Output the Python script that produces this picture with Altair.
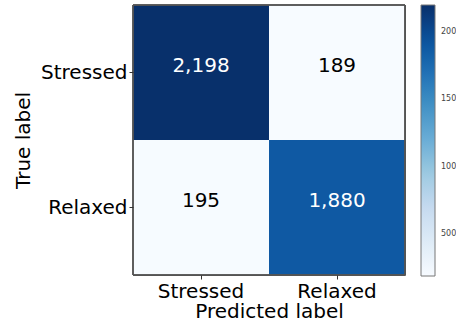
import altair as alt
import numpy as np
import pandas as pd

# Confusion matrix counts
classes = ["Stressed", "Relaxed"]
true_labels = ["Stressed", "Stressed", "Relaxed", "Relaxed"]
pred_labels = ["Stressed", "Relaxed", "Stressed", "Relaxed"]
counts = [2198, 189, 195, 1880]
colorbar_ticks = [500, 1000, 1500, 2000]

df = pd.DataFrame({"true": true_labels, "pred": pred_labels, "count": counts})

# matplotlib-style "Blues" colour map, spread over the data range
blues = ["#f7fbff", "#deebf7", "#c6dbef", "#9ecae1", "#6baed6",
         "#4292c6", "#2171b5", "#08519c", "#08306b"]
lo, hi = min(counts), max(counts)
stops = list(np.linspace(lo, hi, len(blues)))
threshold = (lo + hi) / 2

FONT = "DejaVu Sans"
W, H = 272, 270

x_enc = alt.X("pred:N", sort=classes, title="Predicted label",
              axis=alt.Axis(labelAngle=0, labelFontSize=20, titleFontSize=20,
                            labelFont=FONT, titleFont=FONT, labelColor="black",
                            titleColor="black", titleFontWeight="normal",
                            domain=False, ticks=True, tickSize=4, tickColor="#333",
                            labelPadding=2, titlePadding=0))
y_enc = alt.Y("true:N", sort=classes, title="True label",
              axis=alt.Axis(labelFontSize=20, titleFontSize=20,
                            labelFont=FONT, titleFont=FONT, labelColor="black",
                            titleColor="black", titleFontWeight="normal",
                            domain=False, ticks=True, tickSize=4, tickColor="#333",
                            labelPadding=2, titlePadding=7))

rects = alt.Chart(df).mark_rect().encode(
    x=x_enc,
    y=y_enc,
    color=alt.Color("count:Q",
                    scale=alt.Scale(domain=stops, range=blues, zero=False, nice=False),
                    legend=alt.Legend(title=None, orient="right", offset=16, padding=0,
                                      gradientLength=271, gradientThickness=14,
                                      gradientStrokeColor="#777", gradientStrokeWidth=1,
                                      values=colorbar_ticks, format="d", labelFontSize=8,
                                      labelFont=FONT, labelColor="#444",
                                      labelOffset=6, direction="vertical")),
)

labels = alt.Chart(df).mark_text(font=FONT, fontSize=20, dy=-7).encode(
    x=alt.X("pred:N", sort=classes),
    y=alt.Y("true:N", sort=classes),
    text=alt.Text("count:Q", format=",d"),
    color=alt.condition(alt.datum["count"] > threshold,
                        alt.value("white"), alt.value("black")),
)

# thin frame drawn over the cells
frame = alt.Chart(df).mark_rect(fill=None, stroke="#555", strokeWidth=1).encode(
    x=alt.value(0), x2=alt.value(W), y=alt.value(0), y2=alt.value(H),
)

chart = (rects + labels + frame).properties(
    width=W, height=H,
    autosize=alt.AutoSizeParams(type="none"),
    padding={"left": 133, "top": 5, "right": 51, "bottom": 49},
    background="white",
).configure_view(stroke="#555", strokeWidth=1)

chart.save("out.html", embed_options={"renderer": "svg", "actions": False})
